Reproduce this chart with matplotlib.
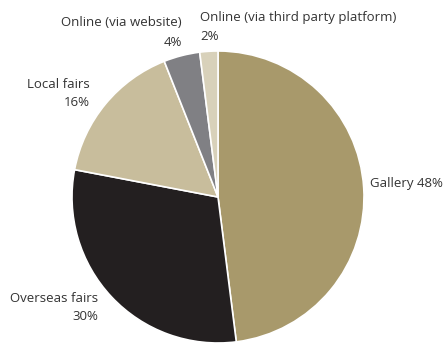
import matplotlib.pyplot as plt

plt.rcParams['font.family'] = ['Open Sans', 'DejaVu Sans']

channels = ['Gallery', 'Overseas fairs', 'Local fairs',
            'Online (via website)', 'Online (via third party platform)']
shares = [48, 30, 16, 4, 2]
colors = ['#A8996B', '#231F20', '#C8BD9C', '#808084', '#D8D1BA']

W, H = 445, 345
fig = plt.figure(figsize=(W / 100, H / 100), dpi=100)
ax = fig.add_axes([0, 0, 1, 1])

# pixel-like coordinates, y measured upward from the bottom
ax.pie(shares, colors=colors, startangle=90, counterclock=False,
       center=(218, H - 197), radius=146,
       wedgeprops=dict(edgecolor='white', linewidth=1.2))
ax.set_xlim(0, W)
ax.set_ylim(0, H)
ax.set_aspect('equal')
ax.axis('off')

tc = '#333333'
fs = 9.5
def lab(x, y, s, ha):
    ax.text(x, H - y, s, ha=ha, va='center', fontsize=fs, color=tc)

lab(370, 183, f'{channels[0]} {shares[0]}%', 'left')
lab(98, 299, channels[1], 'right')
lab(98, 317, f'{shares[1]}%', 'right')
lab(90, 85, channels[2], 'right')
lab(90, 103, f'{shares[2]}%', 'right')
lab(182, 23, channels[3], 'right')
lab(182, 42, f'{shares[3]}%', 'right')
lab(200, 17, channels[4], 'left')
lab(200, 36, f'{shares[4]}%', 'left')

fig.savefig('out.png', dpi=100)
